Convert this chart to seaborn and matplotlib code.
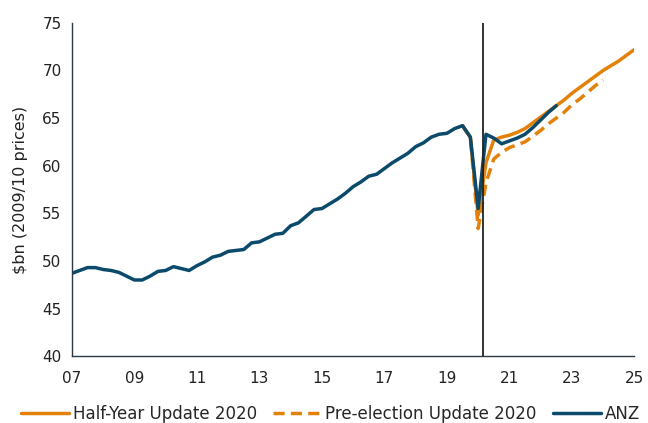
import numpy as np
import pandas as pd
import matplotlib
matplotlib.use("Agg")
import matplotlib.pyplot as plt
import seaborn as sns

# --- data (quarterly) ---
anz_start = 2007.0
anz_values = [48.7, 49.0, 49.3, 49.3, 49.1, 49.0, 48.8, 48.4,
              48.0, 48.0, 48.4, 48.9, 49.0, 49.4, 49.2, 49.0,
              49.5, 49.9, 50.4, 50.6, 51.0, 51.1, 51.2, 51.9,
              52.0, 52.4, 52.8, 52.9, 53.7, 54.0, 54.7, 55.4,
              55.5, 56.0, 56.5, 57.1, 57.8, 58.3, 58.9, 59.1,
              59.7, 60.3, 60.8, 61.3, 62.0, 62.4, 63.0, 63.3,
              63.4, 63.9, 64.2, 63.0, 55.5, 63.3, 62.9, 62.3,
              62.6, 62.9, 63.3, 64.0, 64.8, 65.6, 66.3]

hyu_start = 2019.5
hyu_values = [64.2, 63.0, 54.8, 60.3, 62.7, 63.0, 63.2, 63.5,
              63.9, 64.5, 65.1, 65.7, 66.3, 66.9, 67.6, 68.2,
              68.8, 69.4, 70.0, 70.5, 71.0, 71.6, 72.2]

pefo_start = 2019.5
pefo_values = [64.2, 63.0, 53.4, 58.2, 60.7, 61.4, 61.9, 62.2,
               62.5, 63.1, 63.7, 64.4, 65.0, 65.6, 66.4, 67.0,
               67.7, 68.4, 69.0]

x_ticks = [2007, 2009, 2011, 2013, 2015, 2017, 2019, 2021, 2023, 2025]
x_labels = ["07", "09", "11", "13", "15", "17", "19", "21", "23", "25"]
y_ticks = [40, 45, 50, 55, 60, 65, 70, 75]
marker_year = 2020.17

orange = "#E3820B"
navy = "#0B4A6B"


def quarterly(start, values):
    return pd.DataFrame({"year": start + 0.25 * np.arange(len(values)), "value": values})


anz = quarterly(anz_start, anz_values)
hyu = quarterly(hyu_start, hyu_values)
pefo = quarterly(pefo_start, pefo_values)

sns.set_style("white")
plt.rcParams["font.family"] = ["DejaVu Sans"]

fig = plt.figure(figsize=(6.48, 4.23), dpi=100)
ax = fig.add_axes([0.111, 0.158, 0.868, 0.788])

sns.lineplot(data=hyu, x="year", y="value", ax=ax, color=orange, lw=2.5,
             label="Half-Year Update 2020")
sns.lineplot(data=pefo, x="year", y="value", ax=ax, color=orange, lw=2.5,
             dashes=False, label="Pre-election Update 2020")
ax.lines[-1].set_dashes((3.2, 1.8))
sns.lineplot(data=anz, x="year", y="value", ax=ax, color=navy, lw=2.5,
             label="ANZ")

ax.axvline(marker_year, color="#222222", lw=1.3, zorder=5)

ax.set_xlim(2007, 2025)
ax.set_ylim(40, 75)
ax.set_xticks(x_ticks)
ax.set_xticklabels(x_labels)
ax.set_yticks(y_ticks)
ax.set_xlabel("")
ax.set_ylabel("$bn (2009/10 prices)", fontsize=11.5, color="#222222", labelpad=10)

for side in ["top", "right"]:
    ax.spines[side].set_visible(False)
for side in ["left", "bottom"]:
    ax.spines[side].set_color("#2b3a44")
    ax.spines[side].set_linewidth(1.0)
ax.tick_params(axis="both", direction="out", length=4, width=1,
               color="#2b3a44", labelsize=11, labelcolor="#222222")
ax.tick_params(axis="x", pad=7)

handles, labels = ax.get_legend_handles_labels()
ax.get_legend().remove()
fig.legend(handles, labels, loc="lower center", bbox_to_anchor=(0.51, -0.036),
           ncol=3, frameon=False, fontsize=12, handlelength=2.9,
           handletextpad=0.2, columnspacing=1.0)

fig.savefig("out.png", dpi=100)
